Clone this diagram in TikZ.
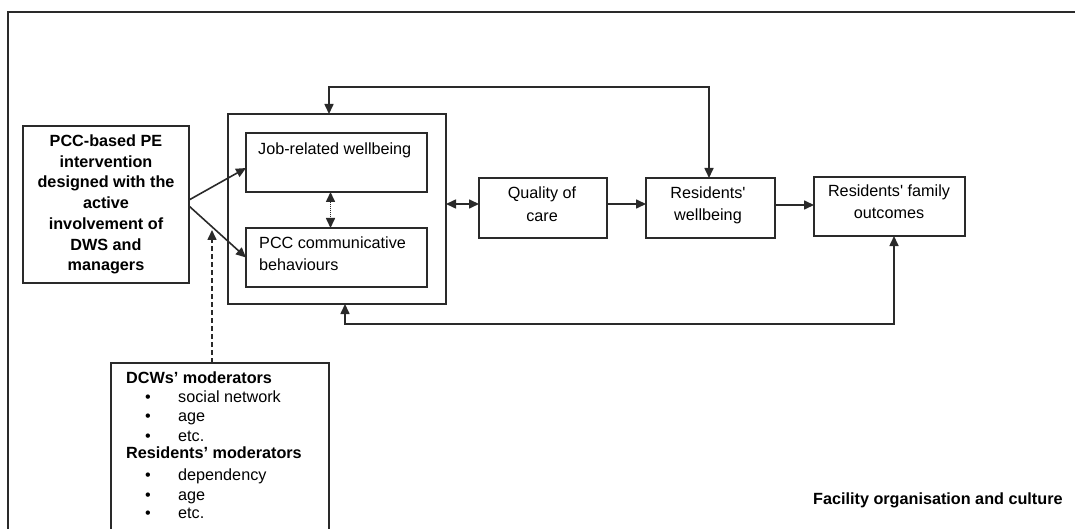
\documentclass[tikz,border=0pt]{standalone}
\usepackage{fontspec}
\setmainfont{Liberation Sans}
\usetikzlibrary{arrows.meta,calc}
\definecolor{linec}{HTML}{2A2A2A}
\begin{document}
\begin{tikzpicture}[x=1pt,y=-1pt,
  font=\fontsize{16.2}{20.7}\selectfont,
  box/.style={draw=linec, line width=1.6pt, inner sep=0pt, outer sep=0pt},
  tip/.tip={Triangle[length=10pt,width=9pt]},
  arr/.style={draw=linec, line width=1.6pt, -tip},
  darr/.style={draw=linec, line width=1.6pt, tip-tip},
  txt/.style={inner sep=0pt, text=black},
  btxt/.style={txt, font=\fontsize{16.2}{20.7}\selectfont\bfseries}]
\useasboundingbox (0,0) rectangle (1075,529);
\clip (0,0) rectangle (1075,529);
% outer frame
\draw[linec, line width=2.2pt] (8,560) -- (8,12) -- (1100,12);
% boxes
\node[box, minimum width=166pt, minimum height=157pt, align=center,
      font=\fontsize{16.2}{20.7}\selectfont\bfseries] (pcc) at (106,204.5)
  {PCC-based PE\\intervention\\designed with the\\active\\involvement of\\DWS and\\managers};
\node[box, minimum width=218pt, minimum height=190pt] (big) at (337,209) {};
\node[box, minimum width=181pt, minimum height=59pt] (job) at (336.5,162.5) {};
\node[box, minimum width=181pt, minimum height=59pt] (comm) at (336.5,257.5) {};
\node[box, minimum width=128pt, minimum height=60pt] (qual) at (543,208) {};
\node[box, minimum width=129pt, minimum height=60pt] (resw) at (710.5,208) {};
\node[box, minimum width=151pt, minimum height=59pt] (fam) at (889.5,206.5) {};
\node[box, minimum width=218pt, minimum height=200pt] (mod) at (220,463) {};
% box texts
\node[txt, anchor=base west] (jobt) at (258,155) {Job-related wellbeing};
\node[txt, anchor=base west] (commt1) at (259,248) {PCC communicative};
\node[txt, anchor=base west] (commt2) at (259,270) {behaviours};
\node[txt, anchor=base] (qualt1) at (542,199) {Quality of};
\node[txt, anchor=base] (qualt2) at (542,222) {care};
\node[txt, anchor=base] (reswt1) at (708,199) {Residents\textquotesingle};
\node[txt, anchor=base] (reswt2) at (708,221) {wellbeing};
\node[txt, anchor=base] (famt1) at (889,197) {Residents\textquotesingle\ family};
\node[txt, anchor=base] (famt2) at (889,219) {outcomes};
% moderators
\node[btxt, anchor=base west] (m1) at (126,383) {DCWs’ moderators};
\node[txt, anchor=base] (b1) at (148,402) {•};
\node[txt, anchor=base west] (i1) at (178,402) {social network};
\node[txt, anchor=base] (b2) at (148,421.5) {•};
\node[txt, anchor=base west] (i2) at (178,421.5) {age};
\node[txt, anchor=base] (b3) at (148,441) {•};
\node[txt, anchor=base west] (i3) at (178,441) {etc.};
\node[btxt, anchor=base west] (m2) at (126,458) {Residents’ moderators};
\node[txt, anchor=base] (b4) at (148,480.5) {•};
\node[txt, anchor=base west] (i4) at (178,480.5) {dependency};
\node[txt, anchor=base] (b5) at (148,500) {•};
\node[txt, anchor=base west] (i5) at (178,500) {age};
\node[txt, anchor=base] (b6) at (148,518) {•};
\node[txt, anchor=base west] (i6) at (178,518) {etc.};
% facility
\node[btxt, anchor=base west] (fac) at (813,504) {Facility organisation and culture};
% connectors
\draw[arr] ($(pcc.east)+(0,-4.5)$) -- ($(job.west)+(0,5.5)$);
\draw[arr] ($(pcc.east)+(0,1.5)$) -- (comm.west);
\draw[darr, dash pattern=on 1pt off 1pt] ($(job.south)+(-6,0)$) -- ($(comm.north)+(-6,0)$);
\draw[darr] ($(big.east)+(0,-5)$) -- ($(qual.west)+(0,-4)$);
\draw[arr] ($(qual.east)+(0,-4)$) -- ($(resw.west)+(0,-4)$);
\draw[arr] ($(resw.east)+(0,-3)$) -- ($(fam.west)+(0,-1.5)$);
\coordinate (t1) at (329,87);
\coordinate (t2) at (709,87);
\draw[darr] (t1 |- big.north) -- (t1) -- (t2) -- (t2 |- resw.north);
\coordinate (u1) at (345,324);
\coordinate (u2) at (894,324);
\draw[darr] (u1 |- big.south) -- (u1) -- (u2) -- (u2 |- fam.south);
\coordinate (dtip) at (212,230);
\draw[arr, dash pattern=on 5pt off 3pt] (mod.north -| dtip) -- (dtip);
\end{tikzpicture}
\end{document}
